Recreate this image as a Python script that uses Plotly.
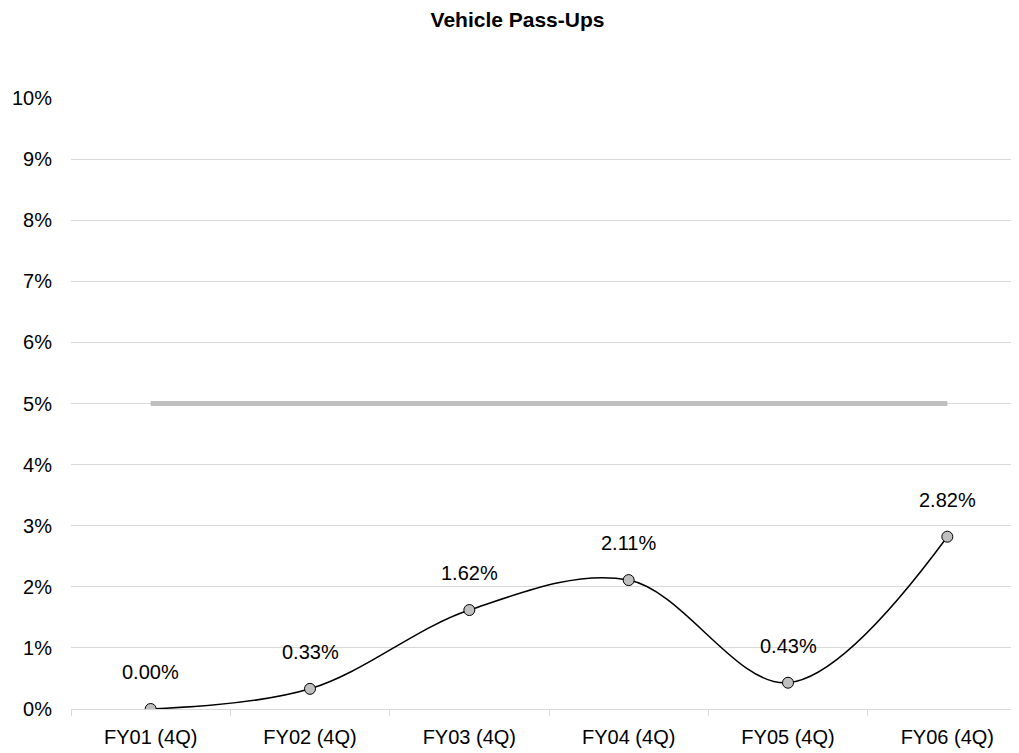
import plotly.graph_objects as go

categories = ["FY01 (4Q)", "FY02 (4Q)", "FY03 (4Q)", "FY04 (4Q)", "FY05 (4Q)", "FY06 (4Q)"]
pass_ups = [0.00, 0.33, 1.62, 2.11, 0.43, 2.82]  # percent
target = [5, 5, 5, 5, 5, 5]  # percent
y_ticks = list(range(0, 11))

FONT = "Liberation Sans, Arial, sans-serif"

fig = go.Figure()
fig.add_trace(go.Scatter(
    x=categories, y=target, mode="lines",
    line=dict(color="#bfbfbf", width=5), hoverinfo="skip", showlegend=False,
))
fig.add_trace(go.Scatter(
    x=categories, y=pass_ups, mode="lines+markers",
    line=dict(color="#000000", width=1.5, shape="spline", smoothing=1.0),
    marker=dict(size=11, color="#bfbfbf", line=dict(color="#000000", width=1)),
    showlegend=False,
))
for c, v in zip(categories, pass_ups):
    fig.add_annotation(x=c, y=v, text=f"{v:.2f}%", showarrow=False,
                       yshift=37, font=dict(family=FONT, size=20, color="#000000"))

fig.update_layout(
    width=1019, height=753,
    margin=dict(l=63, r=0, t=90, b=52, autoexpand=False),
    paper_bgcolor="white", plot_bgcolor="white",
    title=dict(text="<b>Vehicle Pass-Ups</b>", x=0.5, xanchor="center", y=0.984, yanchor="middle",
               font=dict(family=FONT, size=21, color="#000000")),
    font=dict(family=FONT, size=20, color="#000000"),
)
fig.update_xaxes(
    type="category", range=[-0.5, 5.5], automargin=False,
    showgrid=False, showline=True, linecolor="#d9d9d9", linewidth=1,
    ticks="outside", tickson="boundaries", ticklen=6, tickcolor="#d9d9d9",
    tickfont=dict(family=FONT, size=20, color="#000000"), ticklabelstandoff=10,
)
fig.update_yaxes(
    range=[0, 10], tickvals=y_ticks, ticktext=[f"{t}%" for t in y_ticks], automargin=False,
    showgrid=True, gridcolor="#d9d9d9", gridwidth=1, zeroline=False, showline=False,
    tickfont=dict(family=FONT, size=20, color="#000000"), ticklabelstandoff=18,
)

fig.write_html("out.html")
